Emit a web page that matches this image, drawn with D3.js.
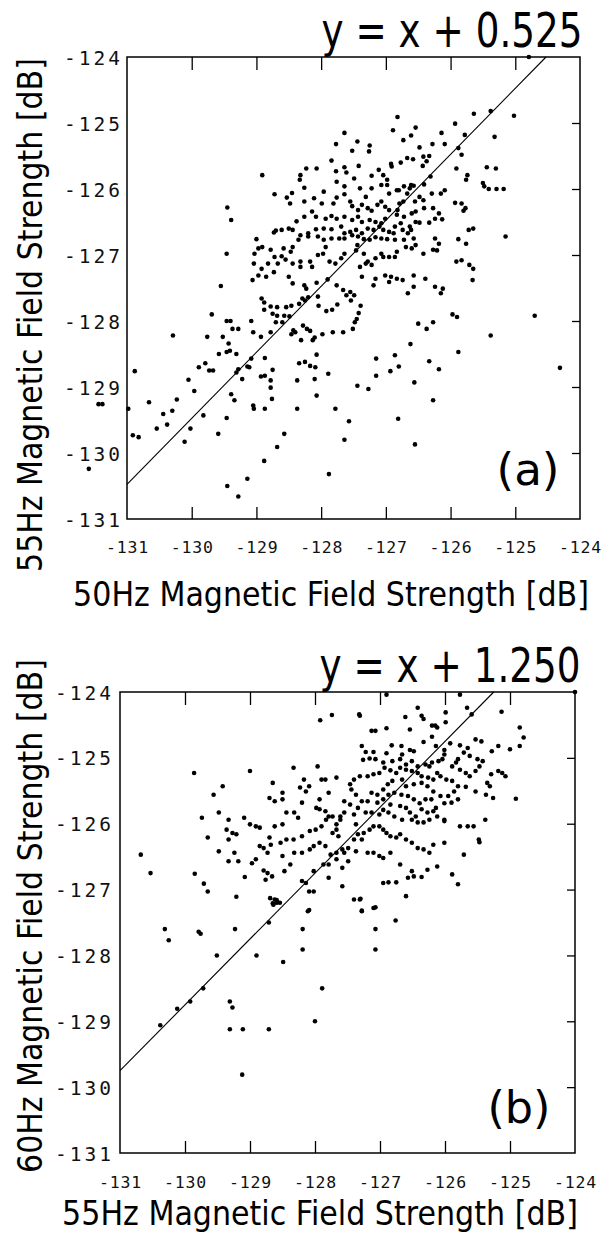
<!DOCTYPE html>
<html>
<head>
<meta charset="utf-8">
<script src="https://cdn.jsdelivr.net/npm/d3@7"></script>
<style>
  body { margin: 0; background: #fff; }
  .tick text { font-family: "DejaVu Sans Mono", monospace; fill: #111; }
  .title { font-family: "DejaVu Sans", sans-serif; fill: #000; }
</style>
</head>
<body>
<svg id="chart" width="602" height="1237"></svg>
<script>

// axis ticks (dB)
const axisTicks = [-131, -130, -129, -128, -127, -126, -125, -124]
const innerTicks = [-130, -129, -128, -127, -126, -125]

// fitted lines y = x + c
const fitA = 0.525
const fitB = 1.250

// panel (a): [50Hz, 55Hz] field strength, dB
const pointsA = [
  [-124.79,-124.0],[-125.38,-124.82],[-125.02,-124.89],[-125.64,-124.86],[-126.82,-124.91],[-125.93,-125.01],[-126.89,-125.11],[-126.54,-125.07],
  [-126.61,-125.19],[-126.73,-125.26],[-126.14,-125.15],[-125.78,-125.18],[-125.32,-125.21],[-127.64,-125.15],[-127.44,-125.28],[-127.25,-125.34],
  [-127.77,-125.32],[-127.52,-125.42],[-127.26,-125.43],[-126.48,-125.37],[-126.28,-125.32],[-126.09,-125.32],[-125.88,-125.38],[-125.83,-125.48],
  [-126.42,-125.51],[-126.33,-125.50],[-126.67,-125.53],[-126.58,-125.55],[-126.37,-125.58],[-126.77,-125.60],[-126.92,-125.62],[-126.43,-125.65],
  [-127.84,-125.57],[-127.42,-125.65],[-125.91,-125.69],[-125.74,-125.79],[-125.76,-125.86],[-125.50,-125.91],[-125.41,-126.0],[-125.29,-126.0],
  [-125.18,-126.0],[-125.48,-125.96],[-125.30,-125.69],[-125.44,-125.67],[-126.91,-125.66],[-126.31,-125.81],[-126.41,-125.93],[-126.61,-125.94],
  [-126.72,-125.96],[-126.83,-126.02],[-127.11,-125.71],[-127.22,-125.80],[-127.04,-125.79],[-126.98,-125.86],[-127.77,-125.73],[-127.64,-125.67],
  [-127.76,-125.89],[-127.61,-125.75],[-127.49,-125.84],[-127.64,-125.96],[-127.40,-125.99],[-128.23,-125.69],[-128.07,-125.69],[-128.32,-125.79],
  [-128.33,-125.86],[-128.91,-125.79],[-128.72,-126.08],[-128.53,-126.13],[-128.45,-126.06],[-128.48,-126.22],[-128.26,-126.19],[-128.26,-125.98],
  [-128.11,-126.14],[-127.96,-126.04],[-127.99,-126.22],[-127.81,-126.22],[-127.76,-126.13],[-127.64,-126.08],[-127.55,-126.19],[-127.52,-126.26],
  [-127.43,-126.32],[-127.37,-126.24],[-127.31,-126.12],[-127.22,-125.99],[-127.07,-125.94],[-126.98,-125.94],[-126.95,-126.07],[-126.80,-126.02],
  [-126.73,-126.19],[-126.79,-126.22],[-126.67,-126.07],[-126.57,-125.95],[-126.63,-125.99],[-126.55,-126.19],[-126.48,-126.12],[-126.42,-126.17],
  [-126.29,-126.07],[-126.15,-126.07],[-126.09,-126.02],[-125.93,-126.21],[-125.83,-126.22],[-125.80,-126.33],[-125.77,-126.29],[-125.65,-126.60],
  [-127.07,-126.19],[-127.13,-126.24],[-127.28,-126.29],[-127.22,-126.33],[-127.01,-126.27],[-126.95,-126.32],[-126.82,-126.32],[-126.83,-126.39],
  [-126.72,-126.42],[-126.60,-126.37],[-126.54,-126.34],[-126.41,-126.29],[-126.27,-126.29],[-126.18,-126.37],[-126.24,-126.45],[-126.13,-126.46],
  [-126.33,-126.51],[-126.48,-126.51],[-126.54,-126.50],[-126.63,-126.57],[-126.61,-126.62],[-126.77,-126.52],[-126.86,-126.57],[-127.01,-126.45],
  [-127.07,-126.52],[-127.16,-126.50],[-127.25,-126.47],[-127.37,-126.50],[-127.43,-126.42],[-127.52,-126.47],[-127.64,-126.42],[-127.76,-126.45],
  [-127.84,-126.41],[-127.93,-126.45],[-128.08,-126.42],[-128.14,-126.34],[-128.26,-126.42],[-128.38,-126.49],[-128.50,-126.60],[-128.61,-126.62],
  [-128.73,-126.66],[-128.70,-126.63],[-128.44,-126.62],[-128.32,-126.70],[-128.20,-126.67],[-128.08,-126.61],[-127.96,-126.60],[-127.84,-126.61],
  [-127.69,-126.57],[-127.64,-126.67],[-127.55,-126.65],[-127.46,-126.62],[-127.37,-126.67],[-127.28,-126.60],[-127.19,-126.62],[-127.10,-126.57],
  [-127.04,-126.62],[-126.95,-126.65],[-126.88,-126.67],[-126.74,-126.62],[-126.66,-126.67],[-126.57,-126.75],[-126.72,-126.77],[-126.86,-126.77],
  [-126.98,-126.76],[-127.07,-126.75],[-127.16,-126.73],[-127.25,-126.77],[-127.34,-126.76],[-127.43,-126.72],[-127.52,-126.70],[-127.64,-126.75],
  [-127.72,-126.75],[-127.84,-126.75],[-127.96,-126.77],[-128.05,-126.72],[-128.20,-126.72],[-128.35,-126.77],[-128.44,-126.88],[-128.58,-126.90],
  [-128.78,-126.92],[-128.91,-126.88],[-128.97,-126.90],[-129.00,-126.76],[-129.03,-126.98],[-129.04,-127.13],[-128.92,-127.21],[-128.82,-127.13],
  [-128.72,-127.03],[-128.61,-127.02],[-128.47,-126.95],[-128.44,-127.13],[-128.32,-127.18],[-128.32,-127.10],[-128.17,-127.10],[-128.14,-127.18],
  [-128.05,-127.00],[-127.97,-126.98],[-127.93,-126.88],[-127.87,-127.10],[-127.78,-127.13],[-127.69,-127.05],[-127.64,-126.98],[-127.46,-126.93],
  [-127.44,-126.85],[-127.34,-126.98],[-127.28,-127.10],[-127.40,-127.18],[-127.31,-127.13],[-127.22,-127.15],[-127.16,-127.05],[-127.07,-126.98],
  [-127.04,-127.03],[-126.95,-127.03],[-126.86,-127.03],[-126.83,-126.95],[-126.69,-126.88],[-126.60,-126.90],[-126.54,-126.85],[-126.42,-126.98],
  [-126.27,-126.92],[-126.21,-126.93],[-126.18,-126.83],[-126.24,-126.75],[-125.91,-127.10],[-125.83,-127.08],[-125.71,-127.15],[-125.65,-127.21],
  [-125.66,-127.38],[-125.15,-126.72],[-125.72,-126.62],[-125.88,-126.76],[-125.76,-126.83],[-128.55,-127.07],[-128.67,-127.13],[-128.73,-127.26],
  [-128.85,-127.33],[-128.97,-127.31],[-129.06,-127.38],[-128.50,-127.33],[-128.44,-127.43],[-128.26,-127.46],[-128.23,-127.51],[-128.07,-127.42],
  [-127.90,-127.37],[-127.76,-127.46],[-127.66,-127.53],[-127.55,-127.56],[-127.49,-127.61],[-127.61,-127.61],[-127.37,-127.33],[-127.19,-127.46],
  [-127.01,-127.31],[-126.92,-127.33],[-126.83,-127.36],[-126.95,-127.41],[-126.74,-127.38],[-126.66,-127.58],[-126.57,-127.48],[-126.24,-127.48],
  [-126.12,-127.51],[-126.15,-127.58],[-126.39,-127.36],[-126.57,-127.31],[-127.16,-127.36],[-129.45,-126.28],[-129.39,-126.47],[-129.46,-126.98],
  [-129.55,-127.47],[-128.92,-127.66],[-128.29,-127.66],[-128.20,-127.64],[-128.05,-127.63],
  [-128.88,-127.72],[-128.78,-127.78],[-128.68,-127.79],[-128.54,-127.79],[-128.46,-127.77],[-128.34,-127.74],[-128.25,-127.69],[-128.04,-127.77],
  [-127.83,-127.83],[-127.92,-127.85],[-127.75,-127.75],[-127.54,-127.69],[-127.39,-127.77],[-127.42,-127.88],[-127.45,-127.97],[-127.48,-128.02],
  [-127.51,-128.12],[-127.66,-128.17],[-127.82,-128.17],[-127.98,-128.20],[-128.10,-128.25],[-128.13,-128.29],[-128.22,-128.12],[-128.17,-128.15],
  [-128.28,-128.07],[-128.31,-128.29],[-128.40,-128.17],[-128.46,-128.20],[-128.43,-128.14],[-128.49,-127.93],[-128.57,-127.92],[-128.68,-127.92],
  [-128.60,-128.02],[-128.70,-128.02],[-128.78,-128.17],[-128.93,-128.24],[-128.88,-127.83],[-128.75,-127.89],[-129.05,-128.17],[-129.08,-128.00],
  [-129.28,-128.12],[-129.40,-128.00],[-129.46,-128.00],[-129.37,-128.12],[-129.52,-128.24],[-129.43,-128.34],[-129.41,-128.45],[-129.46,-128.47],
  [-129.58,-128.50],[-129.76,-128.24],[-129.69,-127.90],[-130.29,-128.22],[-129.31,-128.50],[-129.08,-128.57],[-128.87,-128.56],[-128.87,-128.83],
  [-128.93,-128.84],[-128.75,-128.74],[-128.78,-128.90],[-128.78,-129.01],[-128.76,-129.18],[-128.87,-129.33],[-129.04,-129.33],[-129.05,-129.28],
  [-129.14,-128.69],[-129.11,-128.70],[-129.22,-128.88],[-129.31,-128.78],[-129.28,-128.73],[-129.34,-129.20],[-129.39,-129.11],[-129.46,-129.47],
  [-129.59,-129.71],[-129.82,-129.43],[-129.96,-129.06],[-130.05,-128.89],[-129.89,-128.70],[-129.79,-128.64],[-129.73,-128.75],[-129.67,-128.75],
  [-130.23,-129.19],[-130.30,-129.36],[-130.44,-129.41],[-130.38,-129.57],[-130.54,-129.63],[-130.66,-129.23],[-130.88,-128.76],[-130.91,-129.73],
  [-130.82,-129.76],[-130.98,-129.33],[-131.38,-129.26],[-131.44,-129.26],[-131.59,-130.24],[-130.11,-129.83],[-130.02,-129.63],[-129.45,-130.50],
  [-129.28,-130.66],[-129.14,-130.39],[-128.88,-130.12],[-128.68,-129.91],[-128.57,-129.71],[-128.37,-128.90],[-128.34,-128.64],[-128.25,-128.62],
  [-128.17,-128.68],[-128.07,-128.51],[-128.09,-128.70],[-128.10,-128.88],[-128.07,-129.13],[-127.89,-128.80],[-127.78,-129.33],[-127.57,-129.52],
  [-127.64,-129.80],[-127.88,-130.32],[-128.37,-129.33],[-127.44,-128.98],[-127.27,-129.03],[-127.15,-128.83],[-127.15,-128.57],[-126.93,-128.76],
  [-126.86,-128.52],[-126.80,-128.69],[-126.81,-129.48],[-126.62,-128.35],[-126.56,-128.93],[-126.50,-128.04],[-126.37,-128.12],[-126.27,-128.02],
  [-126.33,-128.61],[-126.18,-128.73],[-126.27,-129.20],[-126.55,-129.87],[-125.97,-127.90],[-125.90,-127.94],[-125.88,-128.47],[-125.38,-128.22],
  [-124.70,-127.92],[-124.31,-128.71]
]

// panel (b): [55Hz, 60Hz] field strength, dB
const pointsB = [
  [-126.90,-124.04],[-125.77,-124.04],[-124.0,-124.0],[-127.92,-124.43],[-127.74,-124.35],[-127.32,-124.34],[-127.31,-124.36],[-126.61,-124.38],
  [-126.42,-124.24],[-126.36,-124.36],[-126.33,-124.41],[-126.15,-124.51],[-125.99,-124.31],[-125.99,-124.46],[-125.66,-124.24],[-125.59,-124.34],
  [-125.13,-124.30],[-127.13,-124.59],[-127.07,-124.59],[-126.90,-124.55],[-126.54,-124.57],[-126.20,-124.51],[-126.12,-124.54],[-126.33,-124.76],
  [-126.20,-124.68],[-126.82,-124.81],[-126.67,-124.82],[-126.54,-124.88],[-126.48,-124.90],[-126.66,-124.95],[-126.90,-124.93],[-127.28,-124.82],
  [-127.22,-124.91],[-127.10,-124.91],[-127.26,-125.03],[-127.16,-125.01],[-127.07,-125.02],[-126.95,-125.07],[-126.81,-125.05],[-126.69,-125.02],
  [-126.60,-125.10],[-126.51,-125.05],[-126.42,-125.13],[-126.30,-125.10],[-126.24,-125.13],[-126.14,-124.82],[-126.01,-124.88],[-125.92,-124.78],
  [-125.77,-124.81],[-125.65,-124.85],[-125.53,-124.72],[-125.44,-124.75],[-125.71,-124.92],[-125.62,-124.97],[-125.50,-125.02],[-125.42,-125.05],
  [-125.28,-124.90],[-125.18,-124.82],[-125.00,-124.87],[-124.85,-124.54],[-124.79,-124.69],[-124.85,-124.82],[-125.80,-125.02],[-125.83,-125.07],
  [-126.01,-124.95],[-126.04,-125.02],[-126.10,-125.05],[-126.20,-125.07],[-125.89,-125.13],[-125.77,-125.18],[-125.68,-125.23],[-125.62,-125.28],
  [-125.53,-125.20],[-125.47,-125.13],[-125.29,-125.25],[-125.18,-125.20],[-125.12,-125.23],[-125.07,-125.28],[-125.35,-125.38],[-125.31,-125.43],
  [-125.37,-125.56],[-125.26,-125.61],[-124.91,-125.62],[-125.53,-125.51],[-125.68,-125.44],[-125.80,-125.43],[-125.89,-125.35],[-125.98,-125.33],
  [-126.07,-125.28],[-126.12,-125.23],[-126.18,-125.33],[-126.26,-125.30],[-126.36,-125.28],[-126.42,-125.23],[-126.51,-125.20],[-126.60,-125.18],
  [-126.69,-125.15],[-126.75,-125.23],[-126.84,-125.19],[-126.93,-125.15],[-127.01,-125.23],[-127.10,-125.25],[-127.19,-125.28],[-127.31,-125.28],
  [-127.40,-125.33],[-127.46,-125.40],[-127.44,-125.48],[-127.37,-125.56],[-127.28,-125.66],[-127.19,-125.66],[-127.13,-125.53],[-127.04,-125.56],
  [-126.95,-125.48],[-126.88,-125.40],[-126.81,-125.35],[-126.66,-125.33],[-126.60,-125.43],[-126.48,-125.40],[-126.36,-125.38],[-126.27,-125.43],
  [-126.18,-125.51],[-126.07,-125.58],[-125.95,-125.58],[-125.86,-125.51],[-125.80,-125.63],[-125.90,-125.68],[-126.01,-125.69],[-126.14,-125.76],
  [-126.21,-125.63],[-126.30,-125.63],[-126.39,-125.69],[-126.48,-125.63],[-126.57,-125.58],[-126.67,-125.56],[-126.78,-125.53],[-126.87,-125.56],
  [-126.95,-125.63],[-127.04,-125.68],[-126.84,-125.71],[-126.69,-125.73],[-126.60,-125.76],[-126.54,-125.83],[-126.45,-125.89],[-126.36,-125.78],
  [-126.27,-125.83],[-126.18,-125.81],[-126.12,-125.89],[-126.01,-125.94],[-126.24,-125.94],[-126.33,-125.98],[-126.42,-125.98],[-126.51,-125.94],
  [-126.66,-125.94],[-126.78,-125.89],[-126.87,-125.83],[-126.95,-125.79],[-127.01,-125.86],[-127.13,-125.83],[-127.22,-125.83],[-127.34,-125.76],
  [-127.46,-125.71],[-127.55,-125.83],[-127.61,-125.89],[-127.73,-125.89],[-127.83,-125.94],[-127.93,-125.78],[-127.90,-126.04],[-127.99,-126.09],
  [-128.08,-126.11],[-128.20,-126.19],[-128.33,-126.24],[-128.44,-126.24],[-128.53,-126.29],[-128.68,-126.32],[-128.73,-126.44],[-128.79,-126.37],
  [-128.85,-126.34],[-128.70,-126.21],[-128.91,-126.04],[-128.85,-126.06],[-129.00,-126.01],[-129.09,-125.91],[-129.33,-125.94],[-129.36,-126.09],
  [-129.27,-126.14],[-129.21,-126.16],[-129.33,-126.24],[-129.24,-126.44],[-129.33,-126.57],[-129.18,-126.57],[-129.48,-126.42],[-129.48,-125.83],
  [-129.65,-126.21],[-129.74,-125.91],[-129.42,-125.43],[-129.56,-125.56],[-129.00,-125.20],[-129.86,-125.23],[-130.68,-126.47],[-130.53,-126.75],
  [-129.85,-126.76],[-129.71,-126.91],[-129.65,-127.03],[-129.21,-127.11],[-129.08,-126.81],[-128.97,-126.60],[-128.91,-126.54],[-128.79,-126.71],
  [-128.73,-126.75],[-128.66,-126.80],[-128.76,-126.85],[-128.69,-127.13],[-128.65,-127.21],[-128.62,-127.15],[-128.59,-127.20],[-128.47,-126.72],
  [-128.50,-126.49],[-128.38,-126.62],[-128.32,-126.44],[-128.20,-126.44],[-128.08,-126.39],[-128.02,-126.34],[-127.93,-126.29],[-127.84,-126.34],
  [-127.76,-126.47],[-127.79,-126.62],[-127.67,-126.44],[-127.58,-126.39],[-127.49,-126.37],[-127.40,-126.24],[-127.34,-126.16],[-127.25,-126.14],
  [-127.16,-126.09],[-127.10,-126.04],[-127.01,-126.04],[-126.95,-126.09],[-126.90,-126.14],[-126.84,-126.19],[-126.75,-126.21],[-126.69,-126.16],
  [-126.60,-126.24],[-126.51,-126.29],[-126.42,-126.37],[-126.33,-126.39],[-126.24,-126.44],[-126.18,-126.32],[-126.01,-126.29],[-126.01,-125.96],
  [-125.77,-126.04],[-125.65,-126.04],[-125.56,-126.04],[-125.48,-126.24],[-125.47,-126.28],[-125.38,-125.94],[-125.71,-126.47],[-125.89,-126.77],
  [-125.80,-126.92],[-126.12,-126.65],[-126.27,-126.70],[-126.36,-126.81],[-126.48,-126.80],[-126.57,-126.82],[-126.51,-126.72],[-126.69,-126.62],
  [-126.84,-126.44],[-126.95,-126.52],[-127.01,-126.49],[-127.10,-126.44],[-127.19,-126.44],[-127.28,-126.24],[-127.37,-126.42],[-127.49,-126.57],
  [-127.55,-126.44],[-127.58,-126.67],[-127.67,-126.54],[-127.79,-126.82],[-127.87,-126.62],[-128.02,-126.72],[-128.14,-126.90],[-128.20,-126.87],
  [-128.09,-127.03],[-128.02,-127.03],[-128.11,-127.33],[-127.58,-126.95],[-127.40,-127.15],[-127.31,-127.15],[-127.28,-127.33],[-127.10,-127.28],
  [-126.95,-126.90],[-126.87,-126.89],[-126.75,-126.89],[-126.60,-127.10],[-128.50,-125.53],[-128.50,-125.63],[-128.70,-125.61],[-128.62,-125.66],
  [-128.65,-125.38],[-128.33,-125.15],[-128.23,-125.45],[-128.17,-125.33],[-128.14,-125.51],[-128.09,-125.43],[-127.96,-125.13],[-127.90,-125.33],
  [-127.84,-125.33],[-127.79,-125.53],[-127.67,-125.30],[-127.93,-125.63],[-127.98,-125.76],[-127.84,-125.81],[-127.79,-125.89],[-127.67,-126.09],
  [-127.73,-126.14],[-127.67,-126.01],[-127.64,-126.19],[-128.20,-125.68],[-128.32,-125.83],[-128.26,-125.91],[-128.44,-125.83],[-128.50,-126.01],
  [-128.62,-126.04],[-127.55,-125.66],[-127.61,-125.94],[-127.40,-125.86],[-127.37,-126.01],
  [-128.64,-127.23],[-128.58,-127.19],[-128.54,-127.20],[-128.59,-127.16],[-128.09,-127.31],[-127.30,-127.14],[-127.28,-127.32],[-127.07,-127.27],
  [-126.76,-127.47],[-128.71,-127.50],[-128.19,-127.60],[-129.23,-127.60],[-129.79,-127.64],[-129.76,-127.67],[-130.31,-127.60],[-130.25,-127.77],
  [-128.19,-127.91],[-127.07,-127.60],[-127.07,-127.91],[-128.90,-128.00],[-129.51,-128.00],[-128.49,-128.10],[-129.72,-128.50],[-129.92,-128.70],
  [-130.12,-128.81],[-130.38,-129.06],[-129.31,-128.70],[-129.27,-128.79],[-129.31,-129.12],[-129.11,-129.12],[-128.71,-129.12],[-127.89,-128.50],
  [-128.00,-129.00],[-129.12,-129.81]
]

const svg = d3.select("#chart")
svg.append("rect").attr("width", 602).attr("height", 1237).attr("fill", "#fff")

// text squeezed horizontally to a target width (the original lettering is narrow)
function fit_text(g, str, size, width, x, y, angle) {
  let t = g.append("text").attr("class", "title")
    .style("font-size", size + "px")
    .attr("text-anchor", "middle")
    .text(str)
  let sx = width / t.node().getComputedTextLength()
  t.attr("transform", `translate(${x}, ${y}) rotate(${angle || 0}) scale(${sx}, 1)`)
  return t
}

function draw_panel(p) {
  let g = svg.append("g")
  let x = d3.scaleLinear().domain([-131, -124]).range([p.left, p.right])
  let y = d3.scaleLinear().domain([-131, -124]).range([p.bottom, p.top])

  // inward tick marks
  g.append("g").attr("transform", `translate(0, ${p.top})`)
    .call(d3.axisTop(x).tickValues(innerTicks).tickSize(-13).tickFormat(""))
  g.append("g").attr("transform", `translate(0, ${p.bottom})`)
    .call(d3.axisBottom(x).tickValues(innerTicks).tickSize(-12).tickFormat(""))
  g.append("g").attr("transform", `translate(${p.right}, 0)`)
    .call(d3.axisRight(y).tickValues(innerTicks).tickSize(-8).tickFormat(""))

  // labels
  g.append("g").attr("transform", `translate(0, ${p.bottom})`)
    .call(d3.axisBottom(x).tickValues(axisTicks).tickSize(0).tickPadding(p.xPad).tickFormat(d => String(d)))
    .selectAll("text").style("font-size", "16.5px").style("letter-spacing", "0.8px")
  g.append("g").attr("transform", `translate(${p.left}, 0)`)
    .call(d3.axisLeft(y).tickValues(axisTicks).tickSize(0).tickPadding(p.yPad).tickFormat(d => String(d)))
    .selectAll("text").style("font-size", "19.5px").style("letter-spacing", "3px").attr("dy", "0.36em")

  g.selectAll(".domain").remove()
  g.selectAll(".tick line").attr("stroke", "#000").attr("stroke-width", 1.3)

  // frame
  g.append("rect")
    .attr("x", p.left).attr("y", p.top)
    .attr("width", p.right - p.left).attr("height", p.bottom - p.top)
    .attr("fill", "none").attr("stroke", "#000").attr("stroke-width", 1.5)

  // fitted line, ends on the frame
  let x1 = Math.min(-124, -124 - p.fit)
  let line = d3.line().x(d => x(d[0])).y(d => y(d[1]))
  g.append("path")
    .attr("d", line([[-131, -131 + p.fit], [x1, x1 + p.fit]]))
    .attr("fill", "none").attr("stroke", "#000").attr("stroke-width", 1.1)

  // points
  g.append("g").selectAll("circle")
    .data(p.points).enter()
    .append("circle")
    .attr("cx", d => x(d[0]))
    .attr("cy", d => y(d[1]))
    .attr("r", 2.3)
    .attr("fill", "#000")

  // texts
  fit_text(g, p.title, 48, 261, p.titleX, p.titleY)
  fit_text(g, p.tag, 44, 63, p.tagX, p.tagY)
  fit_text(g, p.xTitle, 33, 516, p.xTitleX, p.xTitleY)
  fit_text(g, p.yTitle, 34, 514, 42, p.yTitleC, -90)
}

draw_panel({
  left: 127, right: 580, top: 57, bottom: 519, xPad: 22, yPad: 4,
  points: pointsA, fit: fitA,
  title: "y = x + 0.525", titleX: 452, titleY: 47,
  tag: "(a)", tagX: 528, tagY: 485,
  xTitle: "50Hz Magnetic Field Strength [dB]", xTitleX: 331, xTitleY: 606,
  yTitle: "55Hz Magnetic Field Strength [dB]", yTitleC: 315
})

draw_panel({
  left: 120, right: 575, top: 692, bottom: 1153, xPad: 23, yPad: 6,
  points: pointsB, fit: fitB,
  title: "y = x + 1.250", titleX: 450, titleY: 682,
  tag: "(b)", tagX: 519, tagY: 1123,
  xTitle: "55Hz Magnetic Field Strength [dB]", xTitleX: 320, xTitleY: 1225,
  yTitle: "60Hz Magnetic Field Strength [dB]", yTitleC: 916
})

</script>
</body>
</html>
